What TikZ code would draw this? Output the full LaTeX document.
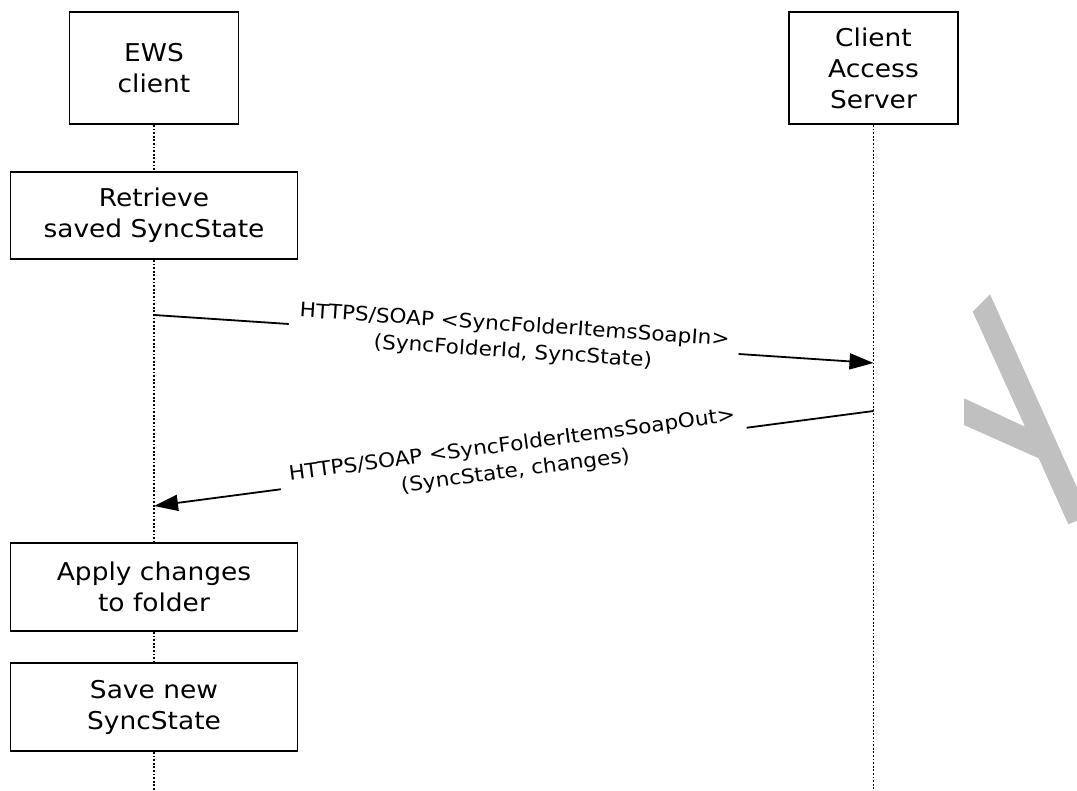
\documentclass[tikz,border=0pt]{standalone}
\usepackage{fontspec}
\setmainfont{DejaVu Sans}[FakeStretch=1.08]
\usetikzlibrary{arrows.meta}
\definecolor{wmgray}{HTML}{C0C0C0}
\begin{document}
\begin{tikzpicture}[x=1pt,y=-1pt,
  box/.style={draw=black, line width=1.9pt, fill=white, align=center, inner sep=0pt, font=\fontsize{24.5}{31}\selectfont},
  life/.style={line width=1.5pt, dash pattern=on 1.8pt off 1.8pt},
  msg/.style={line width=1.8pt, -{Triangle[length=24pt,width=16pt]}},
  lbl/.style={fill=white, sloped, align=center, inner xsep=10pt, inner ysep=2pt, font=\fontsize{20}{26.5}\selectfont},
  wm/.style={fill=wmgray}
]
\useasboundingbox (0,0) rectangle (1077,791);
% watermark fragment
\fill[wm] (972.7,311.7) -- (990,294.3) -- (1077,487.5) -- (1077,520.7) -- (1068.3,524.3) -- (1038.7,458.3) -- (964,425) -- (964,398.3) -- (1025,426.7) -- cycle;
% participants
\node[box, minimum width=169pt, minimum height=112pt] (ews) at (154,68) {EWS\\client};
\node[box, minimum width=169pt, minimum height=112pt] (cas) at (873.5,68) {Client\\Access\\Server};
% activities
\node[box, minimum width=287pt, minimum height=87pt] (ret) at (154,215.5) {Retrieve\\saved SyncState};
\node[box, minimum width=287pt, minimum height=88pt] (app) at (154,587) {Apply changes\\to folder};
\node[box, minimum width=287pt, minimum height=88pt] (sav) at (154,707) {Save new\\SyncState};
% lifelines
\coordinate (ewsend) at (154,791);
\coordinate (casend) at (873.5,791);
\draw[life] (ews.south) -- (ret.north);
\draw[life] (ret.south) -- (app.north);
\draw[life] (app.south) -- (sav.north);
\draw[life] (sav.south) -- (ewsend);
\draw[life] (cas.south) -- (casend);
% messages
\coordinate (m1s) at (154,315);
\coordinate (m1e) at (873.5,363);
\coordinate (m2s) at (873.5,411);
\coordinate (m2e) at (154,506);
\draw[msg] (m1s) -- node[lbl] {HTTPS/SOAP <SyncFolderItemsSoapIn>\\(SyncFolderId, SyncState)} (m1e);
\draw[msg] (m2s) -- node[lbl] {HTTPS/SOAP <SyncFolderItemsSoapOut>\\(SyncState, changes)} (m2e);
\end{tikzpicture}
\end{document}
